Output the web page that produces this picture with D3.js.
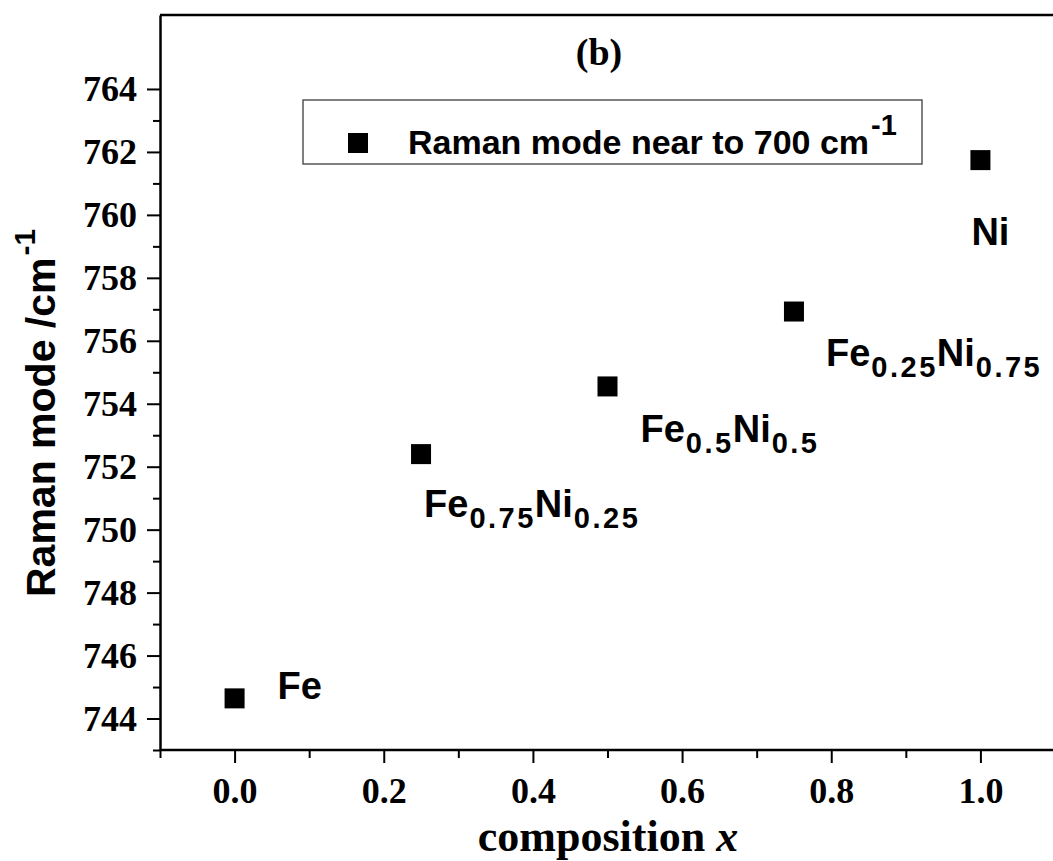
<!DOCTYPE html>
<html><head><meta charset="utf-8">
<script src="https://cdn.jsdelivr.net/npm/d3@7"></script>
<style>
html,body{margin:0;padding:0;background:#fff;overflow:hidden;}
svg{display:block;overflow:hidden;}
</style></head>
<body>
<svg id="chart" width="1053" height="861"></svg>
<script>
// ---- data ----
const compositions = [0, 0.25, 0.5, 0.75, 1.0];
const ramanMode = [744.64, 752.40, 754.55, 756.93, 761.74];
const sampleLabels = [
  [{t:"Fe"}],
  [{t:"Fe"},{t:"0.75",sub:true},{t:"Ni"},{t:"0.25",sub:true}],
  [{t:"Fe"},{t:"0.5",sub:true},{t:"Ni"},{t:"0.5",sub:true}],
  [{t:"Fe"},{t:"0.25",sub:true},{t:"Ni"},{t:"0.75",sub:true}],
  [{t:"Ni"}]
];
const xTickValues = [0.0, 0.2, 0.4, 0.6, 0.8, 1.0];
const xMinorTicks = [-0.1, 0.1, 0.3, 0.5, 0.7, 0.9];
const yTickValues = [744, 746, 748, 750, 752, 754, 756, 758, 760, 762, 764];
const yMinorTicks = [743, 745, 747, 749, 751, 753, 755, 757, 759, 761, 763];
const legendText = "Raman mode near to 700 cm";
const panelLabel = "(b)";
const xTitle = "composition ";
const yTitle = "Raman mode /cm";

(function(){
// ---- layout ----
const svg = d3.select("#chart");
const pL = 160, pR = 1055, pT = 15, pB = 750;
const x = d3.scaleLinear().domain([-0.1, 1.1]).range([pL, pR]);
const y = d3.scaleLinear().domain([743, 766.35]).range([pB, pT]);

const serif = "'Liberation Serif','Times New Roman',serif";
const sans = "'Liberation Sans',Arial,sans-serif";

svg.append("rect").attr("width",1053).attr("height",861).attr("fill","#fff");

// top border
svg.append("line").attr("x1",pL).attr("x2",1053).attr("y1",pT).attr("y2",pT)
  .attr("stroke","#000").attr("stroke-width",2.5);

// x axis
const gx = svg.append("g").attr("transform",`translate(0,${pB})`)
  .call(d3.axisBottom(x).tickValues(xTickValues).tickSize(13).tickSizeOuter(0).tickPadding(14)
    .tickFormat(d3.format(".1f")));
const gxm = svg.append("g").attr("transform",`translate(0,${pB})`)
  .call(d3.axisBottom(x).tickValues(xMinorTicks).tickSize(8).tickSizeOuter(0).tickFormat(""));
// y axis
const gy = svg.append("g").attr("transform",`translate(${pL},0)`)
  .call(d3.axisLeft(y).tickValues(yTickValues).tickSize(13).tickSizeOuter(0).tickPadding(10)
    .tickFormat(d3.format("d")));
const gym = svg.append("g").attr("transform",`translate(${pL},0)`)
  .call(d3.axisLeft(y).tickValues(yMinorTicks).tickSize(7).tickSizeOuter(0).tickFormat(""));

gxm.select(".domain").remove();
gym.select(".domain").remove();
// draw x baseline explicitly, clipped at the window edge
gx.select(".domain").remove();
svg.append("line").attr("x1",pL).attr("x2",1053).attr("y1",pB).attr("y2",pB)
  .attr("stroke","#000").attr("stroke-width",2.5);
[gx,gxm,gy,gym].forEach(g=>{
  g.selectAll(".domain").attr("stroke","#000").attr("stroke-width",2.5);
  g.selectAll(".tick line").attr("stroke","#000").attr("stroke-width",2);
});
[gx,gy].forEach(g=>{
  g.selectAll(".tick text").attr("font-family",serif).attr("font-weight","bold")
    .attr("font-size",36).attr("fill","#000");
});
gx.selectAll(".tick text").attr("dy","0.71em");
gy.selectAll(".tick text").attr("dy","0.33em");

// data points
svg.append("g").selectAll("rect").data(compositions).join("rect")
  .attr("x",(d)=>x(d)-10).attr("y",(d,i)=>y(ramanMode[i])-10)
  .attr("width",20).attr("height",20).attr("fill","#000");

// point labels
const labelOffsets = [[43,1],[3,63],[33,56],[32,54],[-9,85]];
const lab = svg.append("g").attr("font-family",sans).attr("font-weight","bold").attr("fill","#000");
compositions.forEach((c,i)=>{
  const t = lab.append("text")
    .attr("x", x(c)+labelOffsets[i][0])
    .attr("y", y(ramanMode[i])+labelOffsets[i][1])
    .attr("font-size",38);
  let shifted = false;
  sampleLabels[i].forEach(p=>{
    const ts = t.append("tspan").text(p.t);
    if(p.sub){
      ts.attr("font-size",29).attr("dy",11).attr("dx",1).attr("letter-spacing",2.5);
      shifted = true;
    } else if(shifted){
      ts.attr("dy",-11).attr("dx",-1);
      shifted = false;
    }
  });
});

// legend
svg.append("rect").attr("x",303).attr("y",100).attr("width",619).attr("height",64)
  .attr("fill","#fff").attr("stroke","#555").attr("stroke-width",1.5);
svg.append("rect").attr("x",348).attr("y",133).attr("width",20).attr("height",20).attr("fill","#000");
const lt = svg.append("text").attr("x",408).attr("y",154)
  .attr("font-family",sans).attr("font-weight","bold").attr("font-size",34).attr("fill","#000");
lt.append("tspan").text(legendText);
lt.append("tspan").text("-1").attr("font-size",29).attr("dy",-19).attr("dx",2);

// panel label
svg.append("text").attr("x",599).attr("y",65).attr("text-anchor","middle")
  .attr("font-family",serif).attr("font-weight","bold").attr("font-size",38).text(panelLabel);

// x title
const xt = svg.append("text").attr("x",608).attr("y",851).attr("text-anchor","middle")
  .attr("font-family",serif).attr("font-weight","bold").attr("font-size",44).attr("fill","#000");
xt.append("tspan").text(xTitle);
xt.append("tspan").text("x").attr("font-style","italic");

// y title
const yt = svg.append("text").attr("transform","translate(55,597) rotate(-90)")
  .attr("font-family",sans).attr("font-weight","bold").attr("font-size",41).attr("fill","#000");
yt.append("tspan").text(yTitle);
yt.append("tspan").text("-1").attr("font-size",30).attr("dy",-20).attr("dx",2);
})();
</script>
</body></html>
